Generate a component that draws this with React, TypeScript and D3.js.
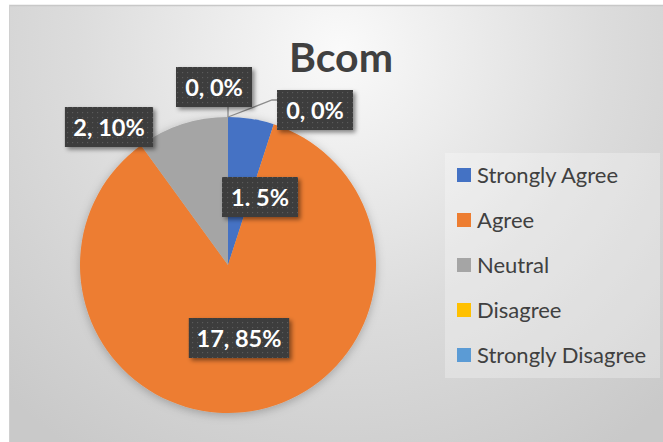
import React from "react";
import * as d3 from "d3";

const title = "Bcom";
const categories = ["Strongly Agree", "Agree", "Neutral", "Disagree", "Strongly Disagree"];
const values = [1, 17, 2, 0, 0];
const percentLabels = ["5%", "85%", "10%", "0%", "0%"];
const separators = [". ", ", ", ", ", ", ", ", "];
const colors = ["#4472C4", "#ED7D31", "#A5A5A5", "#FFC000", "#5B9BD5"];

// label layout: offset from pie centre (px)
const labelOffsets: [number, number][] = [
  [32, -68],
  [11, 73],
  [-119, -138],
  [-14, -178],
  [87, -155],
];

const W = 663;
const H = 442;
const cx = 228;
const cy = 265;
const R = 148;

export default function App() {
  const pie = d3.pie<number>().sort(null).value((d) => d)(values);
  const arc = d3.arc<d3.PieArcDatum<number>>().innerRadius(0).outerRadius(R);
  const fontFamily = "Lato, 'Open Sans', sans-serif";

  const boxH = 40;
  const labels = values.map((v, i) => {
    const text = `${v}${separators[i]}${percentLabels[i]}`;
    const w = text.length * 12.2 + 15;
    const [ox, oy] = labelOffsets[i];
    return { text, w, x: cx + ox, y: cy + oy };
  });

  const legendY = d3.scalePoint<string>().domain(categories).range([175, 355]);

  return (
    <svg width={W} height={H} style={{ position: "absolute", left: 0, top: 0 }} fontFamily={fontFamily}>
      <defs>
        <radialGradient id="bg" gradientUnits="userSpaceOnUse" cx={340} cy={50} r={480}>
          <stop offset="0" stopColor="#fafafa" />
          <stop offset="0.55" stopColor="#dcdcdc" />
          <stop offset="1" stopColor="#c9c9c9" />
        </radialGradient>
        <pattern id="dots" width="5" height="5" patternUnits="userSpaceOnUse">
          <rect width="5" height="5" fill="#3d3d3d" />
          <rect x="2" y="2" width="1.2" height="1.2" fill="#5a5a5a" />
        </pattern>
        <filter id="lblShadow" x="-20%" y="-20%" width="150%" height="160%">
          <feDropShadow dx="2.5" dy="2.5" stdDeviation="2" floodColor="#000" floodOpacity="0.45" />
        </filter>
        <filter id="pieShadow" x="-20%" y="-20%" width="140%" height="140%">
          <feDropShadow dx="0" dy="2" stdDeviation="5" floodColor="#000" floodOpacity="0.25" />
        </filter>
      </defs>
      <rect x={0} y={0} width={W} height={H} fill="#ffffff" />
      <rect x={9} y={5} width={W - 9} height={H - 5} fill="url(#bg)" />
      <line x1={9} y1={5.5} x2={W} y2={5.5} stroke="#c8c8c8" strokeWidth={1.5} />
      <line x1={9.5} y1={5} x2={9.5} y2={H} stroke="#d0d0d0" strokeWidth={1} />

      <text x={341} y={72} textAnchor="middle" fontSize={41} fontWeight="bold" fill="#404040">
        {title}
      </text>

      <g transform={`translate(${cx},${cy})`} filter="url(#pieShadow)">
        {pie.map((d, i) => (
          <path key={i} d={arc(d) || ""} fill={colors[i]} />
        ))}
      </g>

      {/* leader lines for zero slices */}
      <g stroke="#8c8c8c" strokeWidth={1.3} fill="none">
        <line x1={cx} y1={cy - R} x2={cx} y2={labels[3].y + boxH / 2} />
        <polyline points={`${cx},${cy - R} ${labels[4].x - labels[4].w / 2 - 5},${labels[4].y - 10} ${labels[4].x - labels[4].w / 2},${labels[4].y - 10}`} />
      </g>

      {labels.map((l, i) => (
        <g key={i}>
          <rect
            x={l.x - l.w / 2}
            y={l.y - boxH / 2}
            width={l.w}
            height={boxH}
            fill="url(#dots)"
            filter="url(#lblShadow)"
          />
          <text x={l.x} y={l.y + 8.5} textAnchor="middle" fontSize={23.5} fontWeight="bold" fill="#ffffff">
            {l.text}
          </text>
        </g>
      ))}

      <rect x={445} y={153} width={215} height={225} fill="#ffffff" opacity={0.28} />
      {categories.map((c, i) => (
        <g key={c}>
          <rect x={457} y={(legendY(c) as number) - 7} width={14} height={14} fill={colors[i]} />
          <text x={477} y={(legendY(c) as number) + 7.5} fontSize={22} fill="#404040">
            {c}
          </text>
        </g>
      ))}
    </svg>
  );
}
